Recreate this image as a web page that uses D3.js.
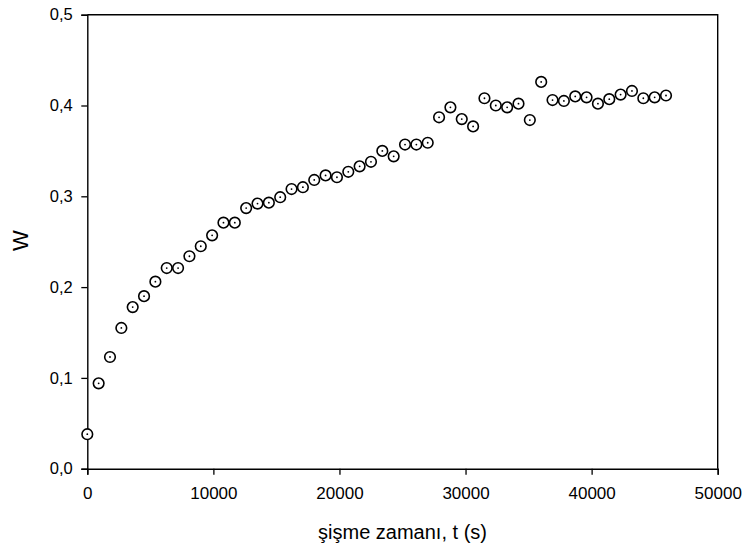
<!DOCTYPE html>
<html>
<head>
<meta charset="utf-8">
<script src="https://cdn.jsdelivr.net/npm/d3@7"></script>
<style>
  html, body { margin: 0; padding: 0; background: #fff; }
  svg { display: block; }
  text { font-family: "Liberation Sans", Arial, sans-serif; fill: #000; }
</style>
</head>
<body>
<svg id="chart" width="743" height="548"></svg>
<script>
// Swelling time (s)
const timeSec = [0, 900, 1800, 2700, 3600, 4500, 5400, 6300, 7200, 8100,
  9000, 9900, 10800, 11700, 12600, 13500, 14400, 15300, 16200, 17100,
  18000, 18900, 19800, 20700, 21600, 22500, 23400, 24300, 25200, 26100,
  27000, 27900, 28800, 29700, 30600, 31500, 32400, 33300, 34200, 35100,
  36000, 36900, 37800, 38700, 39600, 40500, 41400, 42300, 43200, 44100,
  45000, 45900];
// Water uptake W
const wValues = [0.038, 0.094, 0.123, 0.155, 0.178, 0.190, 0.206, 0.221, 0.221, 0.234,
  0.245, 0.257, 0.271, 0.271, 0.287, 0.292, 0.293, 0.299, 0.308, 0.310,
  0.318, 0.323, 0.321, 0.327, 0.333, 0.338, 0.350, 0.344, 0.357, 0.357,
  0.359, 0.387, 0.398, 0.385, 0.377, 0.408, 0.400, 0.398, 0.402, 0.384,
  0.426, 0.406, 0.405, 0.410, 0.409, 0.402, 0.407, 0.412, 0.416, 0.408,
  0.409, 0.411];
const xTicks = [0, 10000, 20000, 30000, 40000, 50000];
const yTicks = [0.0, 0.1, 0.2, 0.3, 0.4, 0.5];
const xLabel = "şişme zamanı, t (s)";
const yLabel = "W";

const svg = d3.select("#chart");
const plotL = 87.3, plotR = 717.7, plotT = 14.7, plotB = 468.7;

const x = d3.scaleLinear().domain([0, 50000]).range([plotL, plotR]);
const y = d3.scaleLinear().domain([0, 0.5]).range([plotB, plotT]);

const fmtY = v => d3.format(".1f")(v).replace(".", ",");

// Frame: top and right edges
svg.append("path")
  .attr("d", `M${plotL},${plotT}H${plotR}V${plotB}`)
  .attr("fill", "none").attr("stroke", "#000").attr("stroke-width", 1.4);

const xAxis = svg.append("g")
  .attr("transform", `translate(0,${plotB})`)
  .call(d3.axisBottom(x).tickValues(xTicks).tickFormat(d3.format("d")).tickSizeOuter(0).tickSize(6).tickPadding(12.5));
const yAxis = svg.append("g")
  .attr("transform", `translate(${plotL},0)`)
  .call(d3.axisLeft(y).tickValues(yTicks).tickFormat(fmtY).tickSizeOuter(0).tickSize(6).tickPadding(8.5));

[xAxis, yAxis].forEach(g => {
  g.select(".domain").attr("stroke", "#000").attr("stroke-width", 1.4);
  g.selectAll(".tick line").attr("stroke", "#000").attr("stroke-width", 1.3);
  g.selectAll(".tick text").attr("font-family", "'Liberation Sans', Arial, sans-serif").attr("fill", "#000");
});
xAxis.selectAll(".tick text").attr("font-size", 17);
yAxis.selectAll(".tick text").attr("font-size", 16.5);

svg.append("text")
  .attr("x", (plotL + plotR) / 2).attr("y", 538.5)
  .attr("text-anchor", "middle").attr("font-size", 20)
  .text(xLabel);

svg.append("text")
  .attr("transform", `translate(28,${(plotT + plotB) / 2 - 1}) rotate(-90)`)
  .attr("text-anchor", "middle").attr("font-size", 22)
  .text(yLabel);

const pts = svg.append("g").selectAll("g")
  .data(timeSec.map((t, i) => ({ t, w: wValues[i] })))
  .join("g")
  .attr("transform", d => `translate(${x(d.t)},${y(d.w)})`);
pts.append("circle").attr("r", 5.3)
  .attr("fill", "#fff").attr("stroke", "#000").attr("stroke-width", 1.6);
pts.append("circle").attr("r", 0.9).attr("fill", "#000");
</script>
</body>
</html>
